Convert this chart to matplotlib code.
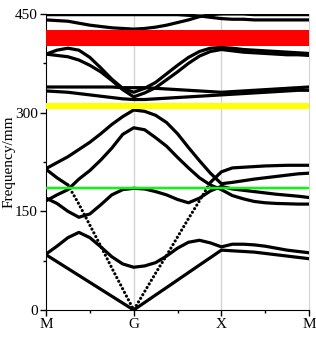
import numpy as np
import matplotlib
matplotlib.use("Agg")
from matplotlib import pyplot as plt

# k path M-G-X-M, 8 steps per segment
k_path = np.linspace(0, 3, 25)
k_ticks = [0, 1, 2, 3]
k_labels = ["M", "G", "X", "M"]
f_ticks = [0, 150, 300, 450]

# bands (M-G | G-X | X-M)
band_l1 = [84, 73.5, 63, 52.5, 42, 31.5, 21, 10.5, 0,
           11.4, 22.8, 34.1, 45.5, 56.9, 68.3, 79.6, 91,
           90, 89, 88, 86, 84, 82, 80, 78]
band_l2 = [85, 97, 110, 118, 110, 96, 81, 70, 65,
           67, 72, 82, 94, 103, 106, 102, 96,
           100, 100, 99, 97, 94, 91, 89, 87]
band_c = [170, 162, 150, 141, 146, 160, 175, 183, 185,
          184, 180, 175, 168, 163, 170, 181, 188,
          184, 182, 180, 178, 176, 174.5, 173, 171]
band_r2 = [166, 175, 183, 199, 212, 228, 246, 267, 277,
           274, 262, 249, 232, 216, 201, 190, 183,
           174, 169, 165, 163, 162, 161.5, 161, 161]
band_r1 = [215, 224, 233, 244, 255, 268, 282, 294, 304,
           302, 296, 285, 268, 247, 227, 208, 192,
           194, 196.5, 199, 201, 203, 205, 207, 208]
band_d = [214, 201, 190, 161, 129, 97, 64, 32, 0,
          28, 56, 83, 111, 139, 166, 194, 210,
          216, 217, 218, 219, 219.5, 220, 220, 220]
band_p1 = [339, 339, 339, 339, 339, 339, 339, 338, 338,
           338, 337, 336, 335, 334, 333, 332, 331,
           332, 333, 334, 335, 336, 337, 338, 339]
band_p2 = [333, 332, 331, 329, 327, 325, 323, 321, 320,
           320, 321, 322, 323, 324, 325, 326, 327,
           328, 329, 330, 331, 332, 333, 334, 334]
band_q1 = [389, 395, 398, 395, 384, 368, 351, 337, 331,
           337, 346, 359, 372, 384, 393, 398, 399,
           398, 396, 395, 394, 393, 392, 391, 390]
band_q2 = [389, 387, 385, 380, 372, 362, 349, 335, 324,
           330, 338, 350, 362, 375, 386, 393, 396,
           394, 392, 391, 390, 389, 388, 388, 387]
band_t1 = [449, 449, 449, 449, 449, 449, 449, 449, 449,
           449, 449, 449, 449, 448, 447, 445, 443,
           442, 442, 441, 441, 441, 441, 441, 441]
band_t2 = [441, 440, 439, 436, 433, 431, 429, 428, 427,
           428, 430, 433, 437, 441, 446, 449, 450,
           450, 450, 449, 449, 449, 449, 449, 449]

solid_bands = [band_l1, band_l2, band_c, band_r2, band_r1,
               band_p1, band_p2, band_q1, band_q2, band_t1, band_t2]

# gaps / marked frequencies
red_gap = (402, 426)
yellow_gap = (305, 314)
green_line = 186

plt.rcParams["font.family"] = ["Liberation Serif", "DejaVu Serif"]

fig = plt.figure(figsize=(3.16, 3.48), dpi=100)
ax = fig.add_axes([0.1456, 0.1092, 0.8324, 0.8506])

for b in solid_bands:
    ax.plot(k_path, b, color="black", lw=2.3, solid_capstyle="round", zorder=3)

# steep part of the folded band looks dotted, flat ends solid
d = np.array(band_d)
ax.plot(k_path[:3], d[:3], color="black", lw=2.3, solid_capstyle="round", zorder=3)
ax.plot(k_path[2:16], d[2:16], color="black", lw=2.3, linestyle=(0, (0.01, 1.3)),
        dash_capstyle="round", zorder=3)
ax.plot(k_path[15:], d[15:], color="black", lw=2.3, solid_capstyle="round", zorder=3)

ax.axhspan(red_gap[0], red_gap[1], color="#ff0000", lw=0, zorder=4)
ax.axhspan(yellow_gap[0], yellow_gap[1], color="#ffff00", lw=0, zorder=4)
ax.axhline(green_line, color="#00ff00", lw=1.7, zorder=4)

for kx in k_ticks[1:3]:
    ax.axvline(kx, color="#d4d4d4", lw=1.0, zorder=1)

ax.set_xlim(0, 3)
ax.set_ylim(0, 450)
ax.set_xticks(k_ticks)
ax.set_xticklabels(k_labels)
ax.set_xticks([0.5, 1.5, 2.5], minor=True)
ax.set_yticks(f_ticks)
ax.set_yticks([75, 225, 375], minor=True)
ax.tick_params(axis="both", which="major", direction="out", length=4, width=1,
               labelsize=11, pad=2)
ax.tick_params(axis="both", which="minor", direction="out", length=2, width=1)
ax.spines["top"].set_visible(False)
ax.spines["right"].set_color("#d4d4d4")
ax.set_ylabel("Frequency/mm", fontsize=11)
ax.yaxis.set_label_coords(-0.115, 0.5)

fig.savefig("out.png", dpi=100)
